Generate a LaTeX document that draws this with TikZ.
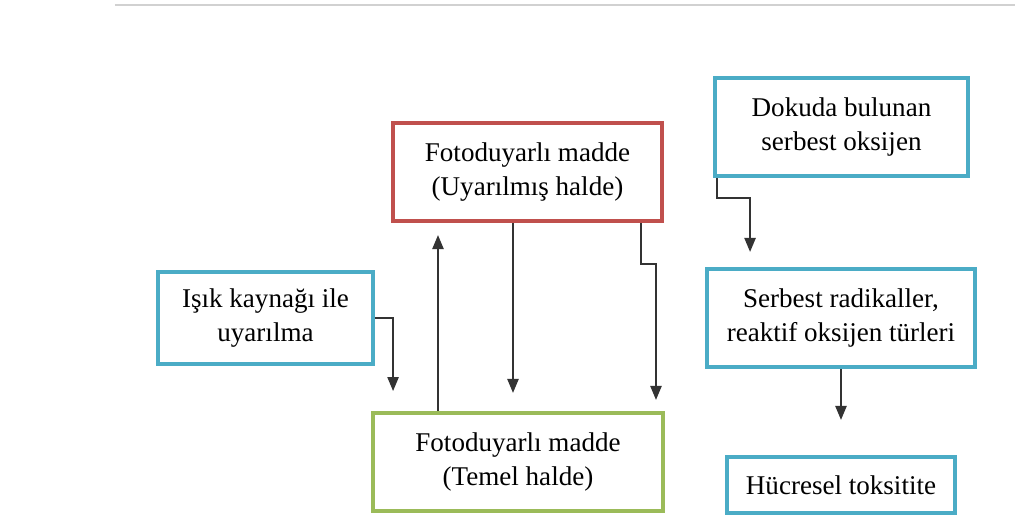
\documentclass[tikz,border=0pt]{standalone}
\usepackage{fontspec}
\setmainfont{Liberation Serif}
\usetikzlibrary{arrows.meta}
\definecolor{boxred}{RGB}{192,80,77}
\definecolor{boxblue}{RGB}{75,172,198}
\definecolor{boxgreen}{RGB}{155,187,89}
\begin{document}
\begin{tikzpicture}[
    box/.style={draw=#1, line width=1.1pt, fill=white, align=center, inner sep=2pt,
        font=\fontsize{7.7pt}{9.6pt}\selectfont},
    arr/.style={draw=black!80, line width=0.5pt, -{Triangle[width=3.2pt,length=4pt]}}]
    \useasboundingbox (0,0) rectangle (10.15,5.19);
    \draw[black!18, line width=0.4pt] (1.15,5.14) -- (10.15,5.14);
    \node[box=boxblue, minimum width=2.15cm, minimum height=0.92cm] (isik) at (2.655,2.01) {Işık kaynağı ile\\uyarılma};
    \node[box=boxred, minimum width=2.69cm, minimum height=0.98cm] (uyar) at (5.275,3.47) {Fotoduyarlı madde\\(Uyarılmış halde)};
    \node[box=boxgreen, minimum width=2.90cm, minimum height=0.98cm] (temel) at (5.18,0.57) {Fotoduyarlı madde\\(Temel halde)};
    \node[box=boxblue, minimum width=2.53cm, minimum height=0.98cm] (oksijen) at (8.415,3.92) {Dokuda bulunan\\serbest oksijen};
    \node[box=boxblue, minimum width=2.68cm, minimum height=0.98cm] (radikal) at (8.41,2.01) {Serbest radikaller,\\reaktif oksijen türleri};
    \node[box=boxblue, minimum width=2.28cm, minimum height=0.56cm] (toks) at (8.41,0.34) {Hücresel toksitite};
    \draw[arr] (isik.east) -| ([shift={(0.22,0.2)}]temel.north west);
    \draw[arr] ([xshift=-0.8cm]temel.north) -- ++(0,1.76);
    \draw[arr] ([xshift=-0.145cm]uyar.south) -- ++(0,-1.7);
    \draw[arr] ([xshift=1.135cm]uyar.south) -- ++(0,-0.41) -- ++(0.15,0) -- ++(0,-1.36);
    \draw[arr] ([xshift=0.04cm]oksijen.south west) -- ++(0,-0.2) -- ++(0.33,0) -- ++(0,-0.54);
    \draw[arr] (radikal.south) -- ++(0,-0.51);
\end{tikzpicture}
\end{document}
